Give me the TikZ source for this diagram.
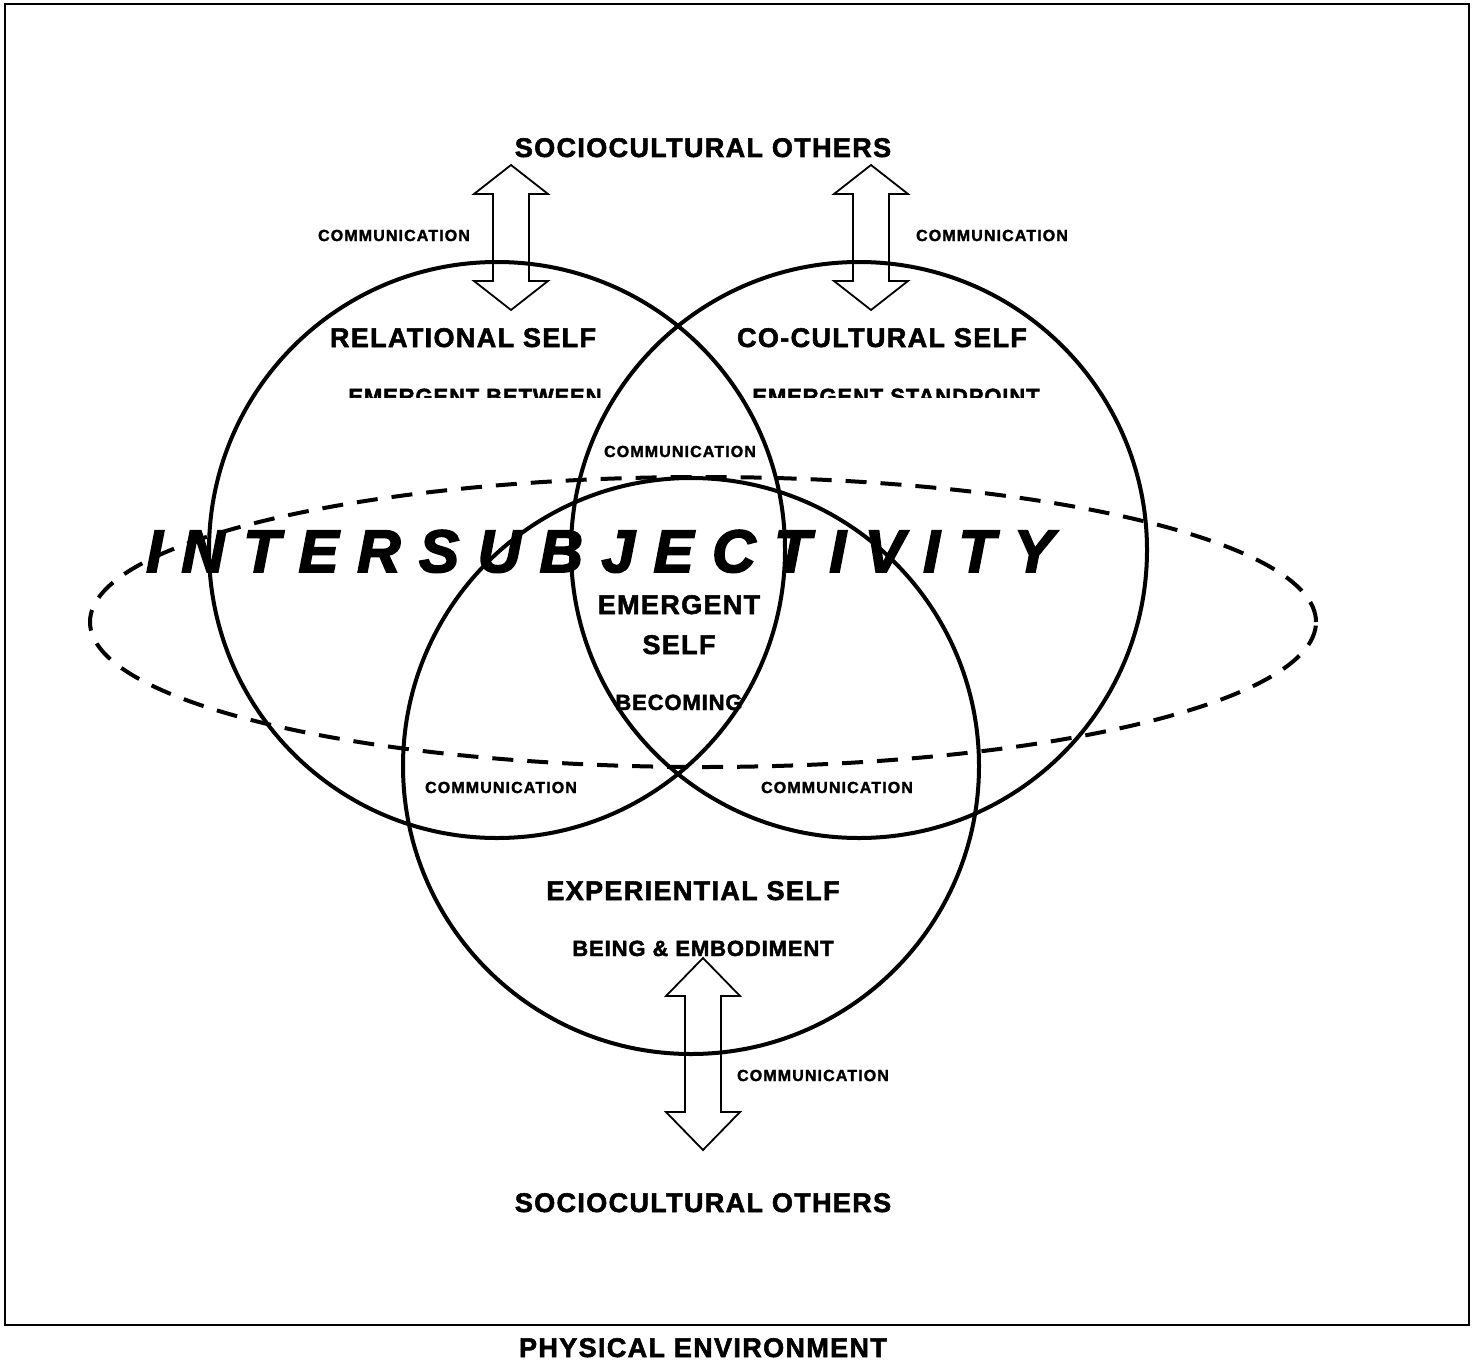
\documentclass[tikz,border=0pt]{standalone}
\usepackage{fontspec}
\setmainfont{Liberation Sans}
\usetikzlibrary{shapes.geometric}

\begin{document}
\begin{tikzpicture}[x=1pt, y=-1pt,
    selfring/.style={circle, draw, line width=4pt, minimum size=576pt, inner sep=0pt},
    headlabel/.style={anchor=base, inner sep=0pt, font=\bfseries\fontsize{27}{29}\selectfont\addfontfeature{LetterSpace=5,FakeBold=2}},
    sublabel/.style={anchor=base, inner sep=0pt, font=\bfseries\fontsize{22}{24}\selectfont\addfontfeature{LetterSpace=4,FakeBold=2}},
    commlabel/.style={anchor=base, inner sep=0pt, font=\bfseries\fontsize{16}{18}\selectfont\addfontfeature{LetterSpace=7,FakeBold=2}},
    bigword/.style={anchor=base, inner sep=0pt, font=\bfseries\itshape\fontsize{60}{62}\selectfont\addfontfeature{LetterSpace=31,FakeBold=3}}]
\newcommand{\commarrow}[4]{
    \draw[line width=1.8pt] (#1,#2) -- (#1+37,#2+#4) -- (#1+18,#2+#4) -- (#1+18,#3-#4) -- (#1+37,#3-#4)
        -- (#1,#3) -- (#1-37,#3-#4) -- (#1-18,#3-#4) -- (#1-18,#2+#4) -- (#1-37,#2+#4) -- cycle;
}
\useasboundingbox (0,0) rectangle (1477,1362);
\draw[line width=2.5pt] (5,4) rectangle (1469,1325);

% the three selves
\node[selfring] (relational) at (497,550) {};
\node[selfring] (cocultural) at (859,550) {};
\node[selfring] (experiential) at (691,766) {};
\node[ellipse, draw, line width=4pt, dash pattern=on 21pt off 14pt, minimum width=1226pt, minimum height=290pt, inner sep=0pt] (intersub) at (703,622) {};

% communication arrows
\commarrow{511}{165}{310}{29}
\commarrow{871}{165}{310}{29}
\commarrow{703}{958}{1150}{38}

% labels
\node[headlabel] (othersTop) at (703,157) {SOCIOCULTURAL OTHERS};
\node[headlabel] (othersBot) at (703,1212) {SOCIOCULTURAL OTHERS};
\node[headlabel] (physical) at (703,1357) {PHYSICAL ENVIRONMENT};
\node[headlabel] (relTitle) at (463,347) {RELATIONAL SELF};
\node[headlabel] (cocTitle) at (882,347) {CO-CULTURAL SELF};
\node[headlabel] (expTitle) at (693,900) {EXPERIENTIAL SELF};
\node[headlabel] (emergent) at (679,614) {EMERGENT};
\node[headlabel] (emSelf) at (679,654) {SELF};
\node[sublabel] (becoming) at (679,710) {BECOMING};
\node[sublabel] (being) at (703,956) {BEING \& EMBODIMENT};
\begin{scope}
    \clip (300,380) rectangle (1100,397);
    \node[sublabel] (between) at (475,404) {EMERGENT BETWEEN};
    \node[sublabel] (standpoint) at (896,404) {EMERGENT STANDPOINT};
\end{scope}
\node[bigword] (intersubText) at (600,572) {INTERSUBJECTIVITY};

\node[commlabel] (commTL) at (394,241) {COMMUNICATION};
\node[commlabel] (commTR) at (992,241) {COMMUNICATION};
\node[commlabel] (commMid) at (680,457) {COMMUNICATION};
\node[commlabel] (commBL) at (501,793) {COMMUNICATION};
\node[commlabel] (commBR) at (837,793) {COMMUNICATION};
\node[commlabel] (commBot) at (813,1081) {COMMUNICATION};
\end{tikzpicture}
\end{document}
